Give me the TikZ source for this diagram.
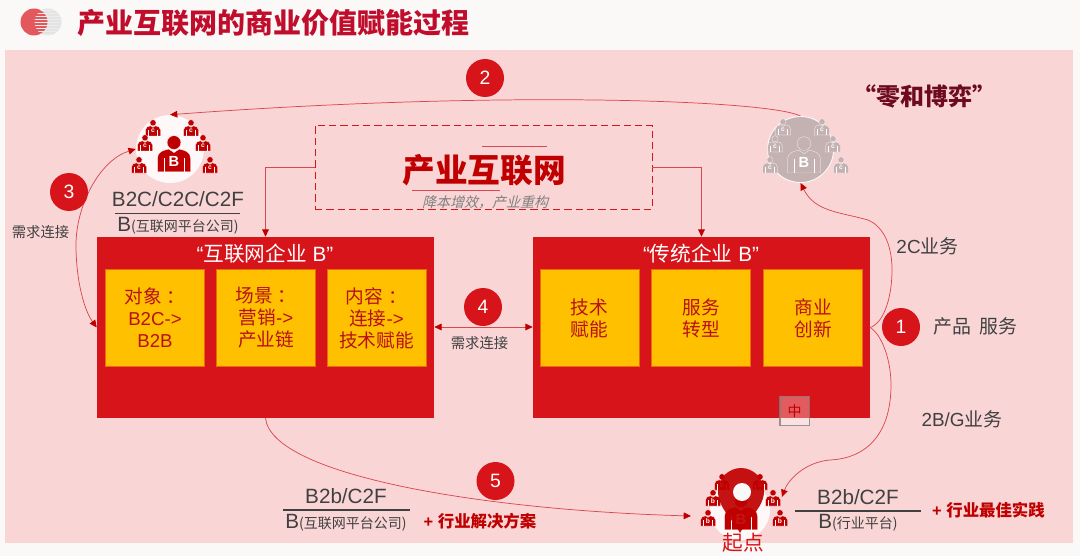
\documentclass[tikz,border=0pt]{standalone}
\usepackage{fontspec}
\setmainfont{Liberation Sans}
\newfontfamily\cjk{Noto Sans CJK SC}
\newfontfamily\cjkslant[FakeSlant=0.25]{Noto Sans CJK SC}
\newcommand{\zh}[1]{{\cjk #1}}
\newcommand{\pxfont}[1]{\fontsize{#1}{#1}\selectfont}
\usetikzlibrary{arrows.meta}
\definecolor{panelpink}{HTML}{FAD5D6}
\definecolor{pagewhite}{HTML}{FBF8F8}
\definecolor{boxred}{HTML}{D7141A}
\definecolor{deepred}{HTML}{C00000}
\definecolor{titlered}{HTML}{C00D2B}
\definecolor{winered}{HTML}{6E0A1E}
\definecolor{boxyellow}{HTML}{FFC000}
\definecolor{inkgrey}{HTML}{404040}
\definecolor{linkred}{HTML}{D9484E}
\definecolor{ghostgrey}{HTML}{C4B2B2}
\definecolor{logored}{HTML}{E2585D}
\tikzset{
  redbox/.style={fill=boxred,draw=none,minimum width=252.75pt,minimum height=135.75pt,inner sep=0pt},
  goldbox/.style={fill=boxyellow,draw=boxred!50!boxyellow,line width=0.4pt,minimum width=74.25pt,minimum height=72.4pt,inner sep=0pt,
    text=boxred!85!black,align=center,font=\pxfont{14}},
  numdot/.style={circle,fill=boxred,text=white,minimum size=28.5pt,inner sep=0pt,font=\pxfont{14.5}},
  halo/.style={circle,fill=white,fill opacity=0.85,minimum size=#1,inner sep=0pt},
  label/.style={inner sep=0pt,text=inkgrey,font=\pxfont{14.2}},
  small/.style={inner sep=0pt,text=inkgrey,font=\pxfont{10.75}},
  gain/.style={inner sep=0pt,text=deepred,font=\bfseries\pxfont{12.3}},
  fracline/.style={draw=inkgrey,line width=0.9pt},
  link/.style={draw=linkred,line width=0.55pt,-{Triangle[length=5.5pt,width=5pt,color=deepred]}},
  bilink/.style={draw=linkred,line width=0.55pt,{Triangle[length=5.5pt,width=5pt,color=deepred]}-{Triangle[length=5.5pt,width=5pt,color=deepred]}},
  pics/staff/.style 2 args={code={
    \fill[#2,draw=white,line width=0.15pt] (0,5.2) circle (3.1);
    \fill[#2,draw=white,line width=0.15pt] (-7.5,-8) -- (-7.5,-2) .. controls (-7.5,1) and (-5,1.6) .. (-2.4,2.2) -- (0,0.6) -- (2.4,2.2)
      .. controls (5,1.6) and (7.5,1) .. (7.5,-2) -- (7.5,-8) -- cycle;
    \draw[white,line width=0.2pt] (-4.6,-2) -- (-4.6,-8) (4.6,-2) -- (4.6,-8);
    \node[transform shape,inner sep=0pt,text=white,font=\bfseries\pxfont{5}] (tag) at (0,-3.2) {#1};
  }},
}
\begin{document}
\begin{tikzpicture}[x=0.75pt,y=0.75pt,yscale=-1,xscale=1]
\useasboundingbox (0,0) rectangle (1080,556);
\fill[pagewhite] (0,0) rectangle (1080,556);

%Shape: Panel
\fill[panelpink] (5,50) rectangle (1073,543);

%Shape: Logo
\fill[gray!22] (48,22) circle (13.5);
\fill[logored] (34,22) circle (13.5);
\begin{scope}
\clip (48,22) circle (13.5);
\foreach \yy in {10,13,...,34} {\draw[white!85!gray,line width=0.7pt] (34,\yy) -- (62,\yy);}
\end{scope}

% Text Node
\node[inner sep=0pt,anchor=west,text=titlered,font=\bfseries\pxfont{21}] (title) at (77,23) {\zh{产业互联网的商业价值赋能过程}};
\node[inner sep=0pt,text=winered,font=\bfseries\pxfont{18}] (zerosum) at (924,96) {\zh{“零和博弈”}};

%Shape: Dashed box
\node[draw=boxred,dash pattern=on 5.5pt off 3pt,line width=0.7pt,minimum width=252.75pt,minimum height=63pt,inner sep=0pt] (cloud) at (483.5,167) {};
\draw[linkred,line width=0.55pt] (482,146) -- (547,146);
\draw[linkred,line width=0.55pt] (412,190) -- (500,190);
\node[inner sep=0pt,text=deepred,font=\bfseries\pxfont{24.5}] (cloudname) at (484,170) {\zh{产业互联网}};
\node[inner sep=0pt,text=gray,font=\pxfont{10.5}] (cloudsub) at (485,202) {{\cjkslant 降本增效，产业重构}};

%Shape: Red boxes
\node[redbox] (webco) at (265.5,327.5) {};
\node[redbox] (oldco) at (701.5,327.5) {};
\node[inner sep=0pt,text=white,font=\pxfont{15.5}] (webname) at (265,254) {“\zh{互联网企业} B”};
\node[inner sep=0pt,text=white,font=\pxfont{15.5}] (oldname) at (701,254) {“\zh{传统企业} B”};

%Shape: Yellow boxes
\node[goldbox] (target) at (155,318) {\zh{对象\kern4pt：}\\[2.5pt]B2C->\\[2.5pt]B2B};
\node[goldbox] (scene) at (266,318) {\zh{场景\kern4pt：}\\[2.5pt]\zh{营销}->\\[2.5pt]\zh{产业链}};
\node[goldbox] (content) at (376.5,318) {\zh{内容\kern4pt：}\\[2.5pt]\zh{连接}->\\[2.5pt]\zh{技术赋能}};
\node[goldbox] (tech) at (589.5,318) {\zh{技术}\\[2.5pt]\zh{赋能}};
\node[goldbox] (service) at (701,318) {\zh{服务}\\[2.5pt]\zh{转型}};
\node[goldbox] (biz) at (813,318) {\zh{商业}\\[2.5pt]\zh{创新}};

%Shape: Input button
\node[fill=white,fill opacity=0.3,draw=gray,draw opacity=0.8,line width=1pt,minimum size=22pt,inner sep=0pt,
  text=deepred,text opacity=1,font=\pxfont{10.5}] (imebtn) at (794.5,411) {\zh{中}};

%Shape: Left platform icon
\node[halo=51pt] (platform) at (170,149) {};
\pic at (174,154) [scale=2.2] {staff={B}{deepred}};
\pic at (153,128) {staff={c}{deepred}};
\pic at (191,128) {staff={c}{deepred}};
\pic at (145,143) {staff={c}{deepred}};
\pic at (203,143) {staff={c}{deepred}};
\pic at (139,165) {staff={c}{deepred}};
\pic at (210,165) {staff={c}{deepred}};

%Shape: Grey platform icon
\node[circle,fill=ghostgrey,draw=white,line width=0.6pt,minimum size=49.5pt,inner sep=0pt] (rival) at (800.5,149.5) {};
\pic at (804,155) [scale=2.2] {staff={B}{ghostgrey}};
\pic at (783,127) {staff={c}{ghostgrey}};
\pic at (822,127) {staff={c}{ghostgrey}};
\pic at (775,144) {staff={c}{ghostgrey}};
\pic at (833,144) {staff={c}{ghostgrey}};
\pic at (770,165) {staff={c}{ghostgrey}};
\pic at (841,165) {staff={c}{ghostgrey}};

%Shape: Start pin
\node[halo=45pt] (origin) at (740,510) {};
\pic at (741,512) [scale=2.2] {staff={B}{deepred}};
\pic at (722,482) {staff={b}{deepred}};
\pic at (760,482) {staff={b}{deepred}};
\pic at (713,498) {staff={b}{deepred}};
\pic at (773,498) {staff={b}{deepred}};
\pic at (708,518) {staff={b}{deepred}};
\pic at (780,518) {staff={b}{deepred}};
\fill[deepred,fill opacity=0.92] (740,533) .. controls (732,518) and (718,508) .. (718,491) .. controls (718,478) and (729,468) .. (741,468)
  .. controls (753,468) and (764,478) .. (764,491) .. controls (764,508) and (748,518) .. (740,533) -- cycle;
\fill[pagewhite] (742,492) circle (9);
\coordinate (pinleft) at (691,516);
\coordinate (pinright) at (782,497);
\node[inner sep=0pt,text=boxred,font=\pxfont{15.5}] (startname) at (743,543) {\zh{起点}};

%Straight Lines
\draw[link] (cloud.west) -| (webco.north);
\draw[link] (cloud.east) -| (oldco.north);
\draw[bilink] (webco.east |- 0,327) -- (oldco.west |- 0,327);

%Curve Lines
\draw[link] (rival.north) .. controls (770,100) and (500,90) .. (platform.north);
\draw[bilink] (webco.west) .. controls (84,310) and (76,280) .. (76,245) .. controls (76,205) and (100,160) .. (platform.west);
\draw[link] (oldco.east) .. controls (885,322) and (892,295) .. (892,270) .. controls (892,240) and (880,225) .. (868,220) .. controls (840,212) and (815,212) .. (rival.south);
\draw[link] (oldco.east) .. controls (882,335) and (891,360) .. (891,385) .. controls (891,430) and (870,458) .. (830,460) .. controls (805,462) and (788,480) .. (pinright);
\draw[link] (webco.south) .. controls (272,475) and (480,510) .. (pinleft);

%Shape: Number dots
\node[numdot] (stepone) at (901,327) {1};
\node[numdot] (steptwo) at (485,78) {2};
\node[numdot] (stepthree) at (69,192) {3};
\node[numdot] (stepfour) at (483,307) {4};
\node[numdot] (stepfive) at (495.5,481) {5};

% Text Node
\node[label,font=\pxfont{15.5}] (leftratio) at (178,199) {B2C/C2C/C2F};
\draw[fracline] (115,213.5) -- (240,213.5);
\node[label,font=\pxfont{15.5}] (leftbase) at (178,226) {B{\pxfont{10.5}\zh{(互联网平台公司)}}};
\node[small] (needleft) at (40.5,232) {\zh{需求连接}};
\node[small] (needmid) at (479.5,343) {\zh{需求连接}};
\node[label] (toc) at (927.5,246) {2C\zh{业务}};
\node[label] (offer) at (975.5,326) {\zh{产品\ \ 服务}};
\node[label] (tob) at (962,419) {2B/G\zh{业务}};
\node[label,font=\pxfont{15.5}] (midratio) at (346,496) {B2b/C2F};
\draw[fracline] (283,510) -- (410,510);
\node[label,font=\pxfont{15.5}] (midbase) at (346,523) {B{\pxfont{10.5}\zh{(互联网平台公司)}}};
\node[gain] (midgain) at (480,521) {+ \zh{行业解决方案}};
\node[label,font=\pxfont{15.5}] (rightratio) at (858,497) {B2b/C2F};
\draw[fracline] (795,511) -- (921,511);
\node[label,font=\pxfont{15.5}] (rightbase) at (858,523) {B{\pxfont{10.5}\zh{(行业平台)}}};
\node[gain] (rightgain) at (988.5,510) {+ \zh{行业最佳实践}};
\end{tikzpicture}
\end{document}
